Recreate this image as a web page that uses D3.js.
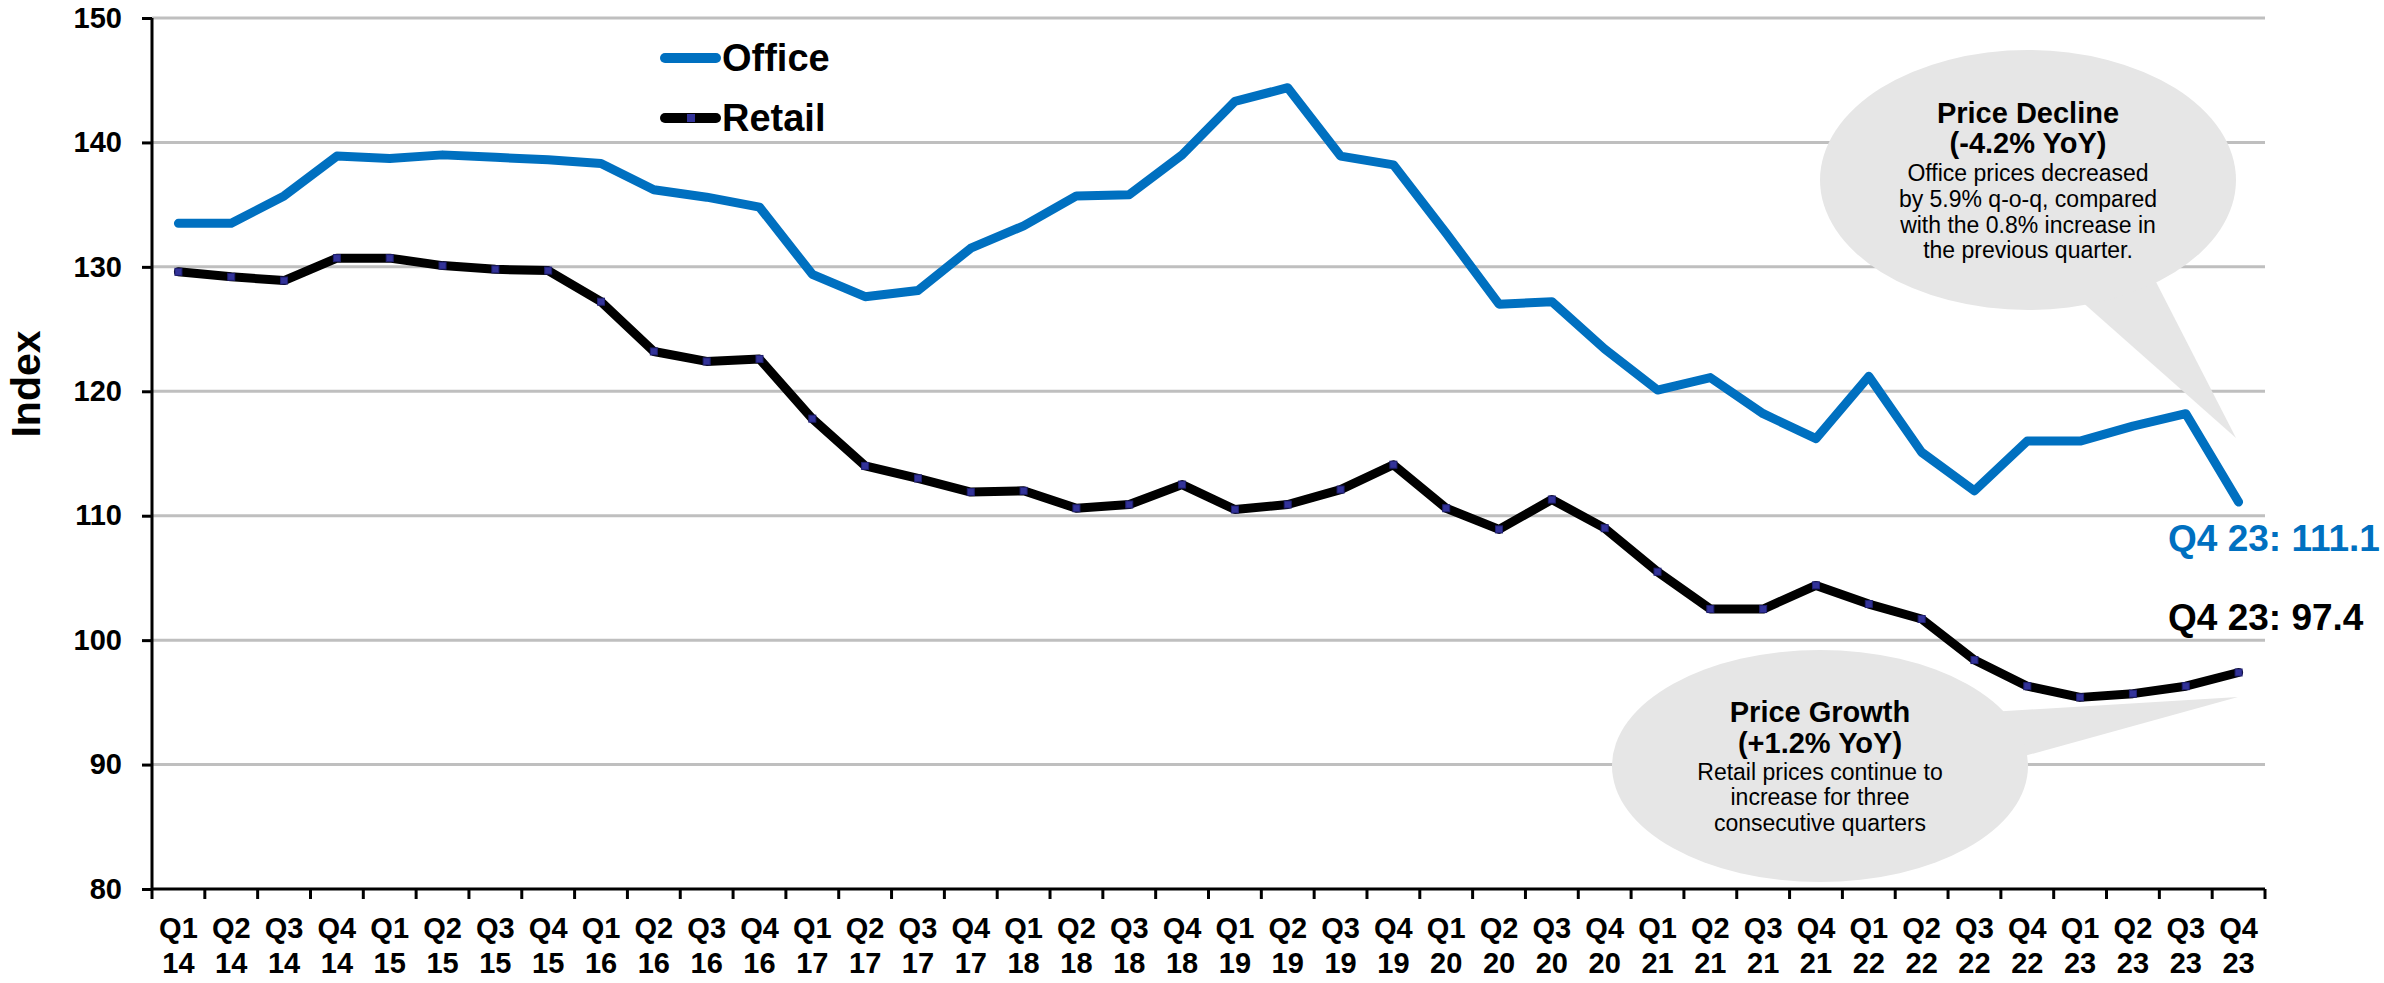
<!DOCTYPE html>
<html>
<head>
<meta charset="utf-8">
<script src="https://d3js.org/d3.v7.min.js"></script>
<style>
  body { margin: 0; background: #fff; }
  svg { display: block; font-family: "Liberation Sans", Arial, sans-serif; }
  .axis path, .axis line { stroke: #000; stroke-width: 3; }
  .axis text { font-weight: bold; fill: #000; }
</style>
</head>
<body>
<div id="holder"></div>
<script>
  // Data
  const quarters = [
    'Q1 14', 'Q2 14', 'Q3 14', 'Q4 14', 'Q1 15', 'Q2 15', 'Q3 15', 'Q4 15',
    'Q1 16', 'Q2 16', 'Q3 16', 'Q4 16', 'Q1 17', 'Q2 17', 'Q3 17', 'Q4 17',
    'Q1 18', 'Q2 18', 'Q3 18', 'Q4 18', 'Q1 19', 'Q2 19', 'Q3 19', 'Q4 19',
    'Q1 20', 'Q2 20', 'Q3 20', 'Q4 20', 'Q1 21', 'Q2 21', 'Q3 21', 'Q4 21',
    'Q1 22', 'Q2 22', 'Q3 22', 'Q4 22', 'Q1 23', 'Q2 23', 'Q3 23', 'Q4 23'
  ];
  const office = [
    133.5, 133.5, 135.7, 138.9, 138.7, 139.0, 138.8, 138.6,
    138.3, 136.2, 135.6, 134.8, 129.4, 127.6, 128.1, 131.5,
    133.3, 135.7, 135.8, 139.0, 143.3, 144.4, 138.9, 138.2,
    132.7, 127.0, 127.2, 123.4, 120.1, 121.1, 118.2, 116.2,
    121.2, 115.1, 112.0, 116.0, 116.0, 117.2, 118.2, 111.1
  ];
  const retail = [
    129.6, 129.2, 128.9, 130.7, 130.7, 130.1, 129.8, 129.7,
    127.2, 123.2, 122.4, 122.6, 117.8, 114.0, 113.0, 111.9,
    112.0, 110.6, 110.9, 112.5, 110.5, 110.9, 112.1, 114.1,
    110.6, 108.9, 111.3, 109.0, 105.5, 102.5, 102.5, 104.4,
    102.9, 101.7, 98.4, 96.3, 95.4, 95.7, 96.3, 97.4
  ];
  const yTicks = [80, 90, 100, 110, 120, 130, 140, 150];
  const seriesNames = ['Office', 'Retail'];
  const endLabels = ['Q4 23: 111.1', 'Q4 23: 97.4'];
  const officeNote = ['Price Decline', '(-4.2% YoY)', 'Office prices decreased',
    'by 5.9% q-o-q, compared', 'with the 0.8% increase in', 'the previous quarter.'];
  const retailNote = ['Price Growth', '(+1.2% YoY)', 'Retail prices continue to',
    'increase for three', 'consecutive quarters'];

  const blue = '#0070C0';
  const w = 2384;
  const h = 983;
  const padL = 152, padR = 2265, padT = 18, padB = 889;

  const svg = d3.select('#holder').append('svg').attr('width', w).attr('height', h);

  const x = d3.scaleBand().domain(quarters).range([padL, padR]);
  const y = d3.scaleLinear().domain([80, 150]).range([padB, padT]);
  const cx = (i) => x(quarters[i]) + x.bandwidth() / 2;

  // gridlines
  svg.append('g')
    .selectAll('line')
    .data(yTicks.filter((t) => t > 80))
    .enter()
    .append('line')
    .attr('x1', padL)
    .attr('x2', padR)
    .attr('y1', (d) => y(d))
    .attr('y2', (d) => y(d))
    .attr('stroke', '#BFBFBF')
    .attr('stroke-width', 3);

  // callouts (ellipse + tail)
  function callout(ex, ey, rx, ry, tail, lines, ys) {
    const g = svg.append('g');
    g.append('path')
      .attr('d', 'M' + tail.map((p) => p.join(',')).join('L') + 'Z')
      .attr('fill', '#E6E6E6');
    g.append('ellipse')
      .attr('cx', ex).attr('cy', ey).attr('rx', rx).attr('ry', ry)
      .attr('fill', '#E6E6E6');
    g.selectAll('text')
      .data(lines)
      .enter()
      .append('text')
      .attr('x', ex)
      .attr('y', (d, i) => ys[i])
      .attr('text-anchor', 'middle')
      .attr('dominant-baseline', 'central')
      .style('font-size', (d, i) => (i < 2 ? '29px' : '23px'))
      .style('font-weight', (d, i) => (i < 2 ? 'bold' : 'normal'))
      .text((d) => d);
  }

  callout(2028, 180, 208, 130,
    [[2080, 300], [2155, 280], [2236, 438]],
    officeNote, [113, 143, 173, 199, 225, 250]);
  callout(1820, 766, 208, 116,
    [[1990, 712], [2238, 697], [2010, 760]],
    retailNote, [712, 743, 772, 797, 823]);

  // lines
  const line = (vals) => d3.line()
    .x((d, i) => cx(i))
    .y((d) => y(d))(vals);

  svg.append('path')
    .attr('d', line(office))
    .attr('fill', 'none')
    .attr('stroke', blue)
    .attr('stroke-width', 9)
    .attr('stroke-linejoin', 'round')
    .attr('stroke-linecap', 'round');

  svg.append('path')
    .attr('d', line(retail))
    .attr('fill', 'none')
    .attr('stroke', '#000')
    .attr('stroke-width', 9)
    .attr('stroke-linejoin', 'round')
    .attr('stroke-linecap', 'round');

  svg.append('g')
    .selectAll('rect')
    .data(retail)
    .enter()
    .append('rect')
    .attr('x', (d, i) => cx(i) - 3.5)
    .attr('y', (d) => y(d) - 3.5)
    .attr('width', 7)
    .attr('height', 7)
    .attr('fill', '#333399')
    .attr('stroke', '#1F1F70')
    .attr('stroke-width', 1);

  // Axes
  const yAxis = d3.axisLeft(y).tickValues(yTicks).tickSize(10).tickPadding(20);
  svg.append('g')
    .attr('class', 'axis')
    .attr('transform', 'translate(' + padL + ',0)')
    .call(yAxis)
    .call((g) => g.selectAll('text').style('font-size', '29px'))
    .call((g) => g.select('.domain').attr('d', 'M0,' + padT + 'V' + padB));

  const xAxis = d3.axisBottom(x).tickSize(0).tickPadding(0);
  const xg = svg.append('g')
    .attr('class', 'axis')
    .attr('transform', 'translate(0,' + padB + ')')
    .call(xAxis);
  xg.select('.domain').attr('d', 'M' + padL + ',0H' + padR);
  xg.selectAll('.tick text').each(function (d) {
    const parts = d.split(' ');
    const t = d3.select(this).text(null).attr('y', 0).attr('dy', null)
      .style('font-size', '29px');
    t.append('tspan').attr('x', 0).attr('y', 49).text(parts[0]);
    t.append('tspan').attr('x', 0).attr('y', 84).text(parts[1]);
  });
  // boundary ticks between quarters
  xg.append('g')
    .selectAll('line')
    .data(d3.range(quarters.length + 1))
    .enter()
    .append('line')
    .attr('x1', (i) => padL + i * x.step())
    .attr('x2', (i) => padL + i * x.step())
    .attr('y1', 0)
    .attr('y2', 10);

  // Y label
  svg.append('text')
    .attr('transform', 'translate(26,384) rotate(-90)')
    .attr('text-anchor', 'middle')
    .attr('dominant-baseline', 'central')
    .style('font-size', '41px')
    .style('font-weight', 'bold')
    .text('Index');

  // Legend
  const legend = svg.append('g');
  const legendColors = [blue, '#000'];
  seriesNames.forEach((name, i) => {
    const ly = 58 + i * 60;
    legend.append('line')
      .attr('x1', 665).attr('x2', 716)
      .attr('y1', ly).attr('y2', ly)
      .attr('stroke', legendColors[i])
      .attr('stroke-width', 10)
      .attr('stroke-linecap', 'round');
    if (i === 1) {
      legend.append('rect')
        .attr('x', 687).attr('y', ly - 4)
        .attr('width', 8).attr('height', 8)
        .attr('fill', '#333399');
    }
    legend.append('text')
      .attr('x', 722)
      .attr('y', ly + 13)
      .style('font-size', '38px')
      .style('font-weight', 'bold')
      .text(name);
  });

  // End labels
  svg.append('text')
    .attr('x', 2168).attr('y', 551)
    .style('font-size', '37px').style('font-weight', 'bold')
    .attr('fill', blue)
    .text(endLabels[0]);
  svg.append('text')
    .attr('x', 2168).attr('y', 630)
    .style('font-size', '37px').style('font-weight', 'bold')
    .attr('fill', '#000')
    .text(endLabels[1]);
</script>
</body>
</html>
